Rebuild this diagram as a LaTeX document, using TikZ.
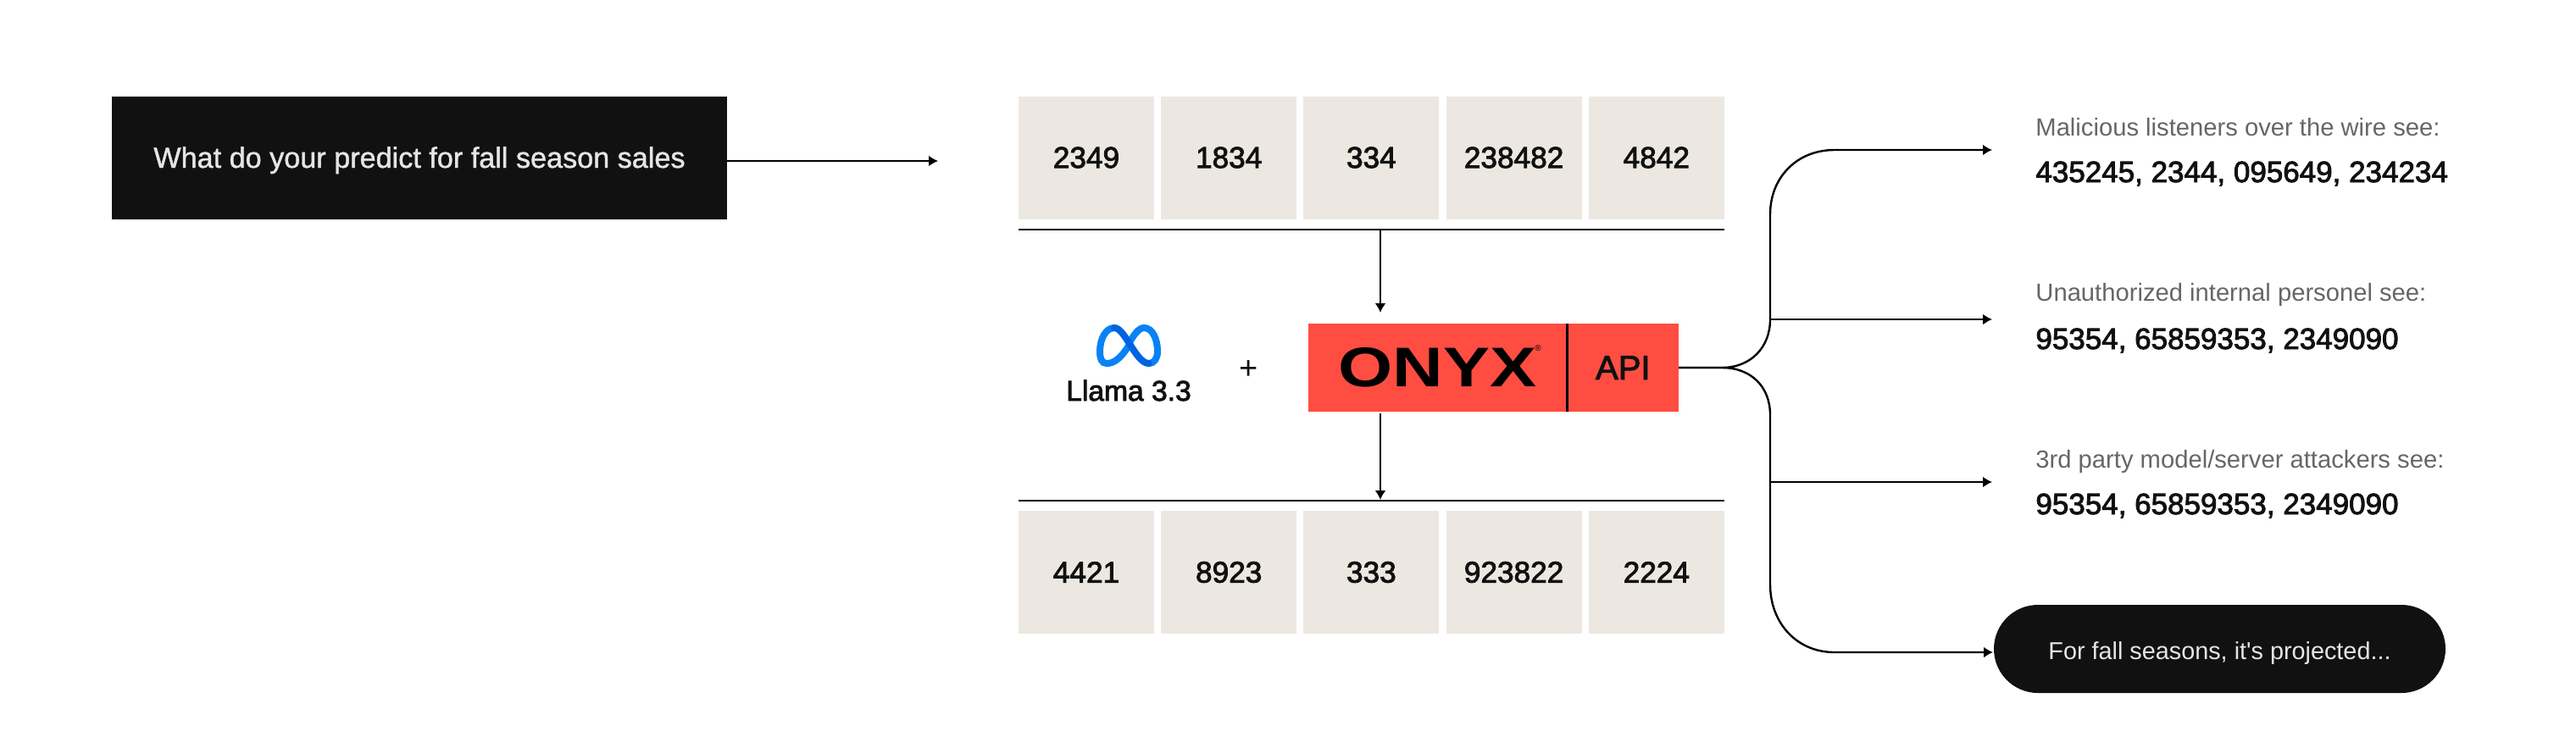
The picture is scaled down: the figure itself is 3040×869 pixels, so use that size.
\documentclass[tikz,border=0pt]{standalone}
\usepackage{fontspec}
\usepackage{xcolor}
\usetikzlibrary{positioning, arrows.meta, shapes.misc}
\setmainfont{Liberation Sans}
\newfontfamily\medfont[FakeBold=2.5]{Liberation Sans}
\newfontfamily\lightmedfont[FakeBold=1.2]{Liberation Sans}
\definecolor{inkblack}{HTML}{111111}
\definecolor{cellgrey}{HTML}{ECE8E1}
\definecolor{onyxred}{HTML}{FF4D42}
\definecolor{labelgrey}{HTML}{666666}
\definecolor{metablue}{HTML}{0A82F5}
\definecolor{metadark}{HTML}{0064E0}
\tikzset{
    cell/.style={fill=cellgrey, minimum width=80pt, minimum height=72.5pt, inner sep=0pt, font=\medfont\fontsize{17.6}{20}\selectfont, text=inkblack},
    lab/.style={anchor=base west, inner sep=0pt, font=\fontsize{14.6}{18}\selectfont, text=labelgrey},
    num/.style={anchor=base west, inner sep=0pt, font=\medfont\fontsize{17.5}{20}\selectfont, text=inkblack},
    wire/.style={line width=1.2pt, black},
    arr/.style={wire, -{Latex[length=5.5pt, width=6.5pt]}}
}

\begin{document}
\begin{tikzpicture}[x=0.5pt, y=-0.5pt]
    \useasboundingbox (0,0) rectangle (3040,869);

    \node [fill=inkblack, text=white!90!black, minimum width=363pt, minimum height=72.5pt, inner sep=0pt, text height=12pt, text depth=0pt, font=\lightmedfont\fontsize{17.1}{20}\selectfont] (query) at (495,186) {What do your predict for fall season sales};
    \coordinate (queryend) at (1107,190);

    \node [cell] (a1) at (1282,186) {2349};
    \node [cell, right=3.7pt of a1] (a2) {1834};
    \node [cell, right=3.7pt of a2] (a3) {334};
    \node [cell, right=3.7pt of a3] (a4) {238482};
    \node [cell, right=3.7pt of a4] (a5) {4842};

    \node [cell] (b1) at (1282,675.5) {4421};
    \node [cell, right=3.7pt of b1] (b2) {8923};
    \node [cell, right=3.7pt of b2] (b3) {333};
    \node [cell, right=3.7pt of b3] (b4) {923822};
    \node [cell, right=3.7pt of b4] (b5) {2224};

    \coordinate [below=6pt of a1.south west] (ruleal);
    \coordinate [below=6pt of a5.south east] (rulear);
    \coordinate [above=5.75pt of b1.north west] (rulebl);
    \coordinate [above=5.75pt of b5.north east] (rulebr);

    \node [fill=onyxred, minimum width=152.5pt, minimum height=52pt, inner sep=0pt, text=black, font=\bfseries\fontsize{33}{36}\selectfont] (onyx) at (1696.5,434) {\scalebox{1.25}[1]{ONYX}};
    \node [fill=onyxred, right=0pt of onyx, minimum width=65.5pt, minimum height=52pt, inner sep=0pt, text=inkblack, font=\medfont\fontsize{20}{24}\selectfont] (api) {API};
    \node [inner sep=0pt, font=\fontsize{5}{6}\selectfont, text=black] (reg) at (1815,411) {®};

    \node [inner sep=0pt, text=inkblack, font=\medfont\fontsize{16.8}{20}\selectfont] (llama) at (1332,461) {Llama 3.3};
    \node [inner sep=0pt, text=inkblack, font=\fontsize{19}{20}\selectfont] (plus) at (1474,437) {+};

    % meta logo
    \draw [metablue, line width=4pt, line cap=round] (1332,408) .. controls (1322,424) and (1314,429) .. (1306,429) .. controls (1300,429) and (1298,423) .. (1298,415) .. controls (1298,400) and (1305,387) .. (1315,387);
    \draw [metablue, line width=4pt, line cap=round] (1332,406) .. controls (1338,395) and (1344,387) .. (1350,387) .. controls (1360,387) and (1366,400) .. (1366,415) .. controls (1366,423) and (1362,429) .. (1356,429);
    \draw [metadark, line width=4pt, line cap=round] (1315,387) .. controls (1328,387) and (1340,429) .. (1356,429);

    \node [lab] (laba) at (2402,160) {Malicious listeners over the wire see:};
    \node [num] (numa) at (2402,215) {435245, 2344, 095649, 234234};
    \node [lab] (labb) at (2402,355) {Unauthorized internal personel see:};
    \node [num] (numb) at (2402,412) {95354, 65859353, 2349090};
    \node [lab] (labc) at (2402,552) {3rd party model/server attackers see:};
    \node [num] (numc) at (2402,607) {95354, 65859353, 2349090};

    \node [fill=inkblack, rounded rectangle, minimum width=266.5pt, minimum height=52pt, inner sep=0pt, text=white!90!black, text height=12pt, text depth=0pt, font=\fontsize{14.4}{18}\selectfont] (pill) at (2619.5,766) {For fall seasons, it\textquotesingle s projected...};

    \coordinate (fork) at (2032,434);
    \coordinate (spineb) at (2089,377);
    \coordinate (spinec) at (2089,569);
    \coordinate (enda) at (2351,177);
    \coordinate (endb) at (2351,377);
    \coordinate (endc) at (2351,569);
    \coordinate (endd) at (2352,770);
    \coordinate (intop) at (1629,369);
    \coordinate (infrom) at (1629,270);
    \coordinate (outfrom) at (1629,488);
    \coordinate (outto) at (1629,590);

    \draw [wire] (ruleal) -- (rulear);
    \draw [wire] (rulebl) -- (rulebr);
    \draw [arr] (query.east |- queryend) -- (queryend);
    \draw [arr] (infrom) -- (intop);
    \draw [arr] (outfrom) -- (outto);
    \draw [wire] (api.north west) -- (api.south west);

    \draw [arr] (api.east) -- (fork) .. controls (2066,434) and (2089,410) .. (spineb) -- (2089,253) .. controls (2089,210) and (2120,177) .. (2165,177) -- (enda);
    \draw [arr] (api.east) -- (fork) .. controls (2066,434) and (2089,456) .. (2089,490) -- (2089,690) .. controls (2089,735) and (2120,770) .. (2165,770) -- (endd);
    \draw [arr] (spineb) -- (endb);
    \draw [arr] (spinec) -- (endc);
\end{tikzpicture}
\end{document}
